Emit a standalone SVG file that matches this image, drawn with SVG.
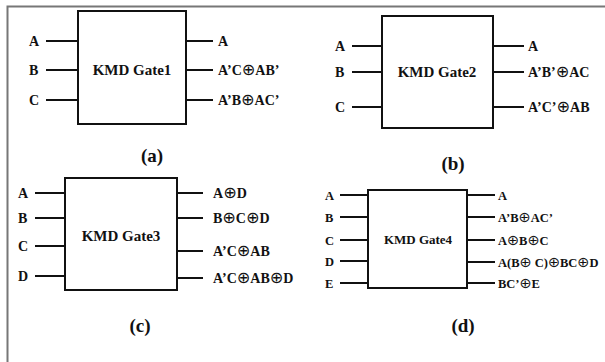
<svg xmlns="http://www.w3.org/2000/svg" width="605" height="362" viewBox="0 0 605 362">
<style>
text{font-family:"Liberation Serif","DejaVu Serif",serif;font-weight:bold;fill:#111}
.l{font-size:14px}
.s{font-size:12.5px}
.g{font-size:15px}
.gs{font-size:13px}
.cap{font-size:19px;text-anchor:middle}
.m{text-anchor:middle}
.x{font-family:"DejaVu Sans",sans-serif;font-size:1.15em;font-weight:normal}
.box{fill:#fff;stroke:#111;stroke-width:2}
.w{stroke:#111;stroke-width:2}
.frame{stroke:#777;stroke-width:2;fill:none}
</style>
<rect width="605" height="362" fill="#fff"/>
<path class="frame" d="M7.5,362 V6.5 H605"/>
<g id="gate1">
<rect class="box" x="78" y="11" width="108" height="113"/>
<text class="g m" x="132" y="75">KMD Gate1</text>
</g>
<g id="gate2">
<rect class="box" x="382" y="16" width="111" height="112"/>
<text class="g m" x="437" y="77">KMD Gate2</text>
</g>
<g id="gate3">
<rect class="box" x="65" y="178" width="112" height="112"/>
<text class="g m" x="121" y="241">KMD Gate3</text>
</g>
<g id="gate4">
<rect class="box" x="368" y="190" width="99" height="98"/>
<text class="gs m" x="418" y="244">KMD Gate4</text>
</g>
<g id="connectors">
<path class="w" d="M46,41H78M46,70H78M46,100H78M186,41H213M186,70H213M186,100H213"/>
<path class="w" d="M352,46H382M352,72H382M352,107H382M493,46H524M493,72H524M493,107H524"/>
<path class="w" d="M35,193H65M35,218H65M35,246H65M35,276H65M177,193H203M177,218H203M177,251H203M177,278H203"/>
<path class="w" d="M340,195H368M340,217H368M340,240H368M340,261H368M340,283H368M467,195H495M467,217H495M467,240H495M467,262H495M467,283H495"/>
</g>
<g id="labels-a">
<text class="l" x="29" y="46">A</text>
<text class="l" x="29" y="75">B</text>
<text class="l" x="29" y="105">C</text>
<text class="l" x="218" y="46">A</text>
<text class="l" x="218" y="75">A’C<tspan class="x">⊕</tspan>AB’</text>
<text class="l" x="218" y="105">A’B<tspan class="x">⊕</tspan>AC’</text>
<text class="cap" x="152" y="162">(a)</text>
</g>
<g id="labels-b">
<text class="l" x="335" y="51">A</text>
<text class="l" x="335" y="77">B</text>
<text class="l" x="335" y="112">C</text>
<text class="l" x="528" y="51">A</text>
<text class="l" x="528" y="77">A’B’<tspan class="x">⊕</tspan>AC</text>
<text class="l" x="528" y="112">A’C’<tspan class="x">⊕</tspan>AB</text>
<text class="cap" x="453" y="170">(b)</text>
</g>
<g id="labels-c">
<text class="l" x="18" y="198">A</text>
<text class="l" x="18" y="223">B</text>
<text class="l" x="18" y="251">C</text>
<text class="l" x="18" y="281">D</text>
<text class="l" x="213" y="198">A<tspan class="x">⊕</tspan>D</text>
<text class="l" x="213" y="223">B<tspan class="x">⊕</tspan>C<tspan class="x">⊕</tspan>D</text>
<text class="l" x="213" y="256">A’C<tspan class="x">⊕</tspan>AB</text>
<text class="l" x="213" y="283">A’C<tspan class="x">⊕</tspan>AB<tspan class="x">⊕</tspan>D</text>
<text class="cap" x="140" y="332">(c)</text>
</g>
<g id="labels-d">
<text class="s" x="325" y="199.5">A</text>
<text class="s" x="325" y="221.5">B</text>
<text class="s" x="325" y="244.5">C</text>
<text class="s" x="325" y="265.5">D</text>
<text class="s" x="325" y="287.5">E</text>
<text class="s" x="498" y="199.5">A</text>
<text class="s" x="498" y="221.5">A’B<tspan class="x">⊕</tspan>AC’</text>
<text class="s" x="498" y="244.5">A<tspan class="x">⊕</tspan>B<tspan class="x">⊕</tspan>C</text>
<text class="s" x="498" y="266.5">A(B<tspan class="x">⊕</tspan> C)<tspan class="x">⊕</tspan>BC<tspan class="x">⊕</tspan>D</text>
<text class="s" x="498" y="287.5">BC’<tspan class="x">⊕</tspan>E</text>
<text class="cap" x="463" y="332">(d)</text>
</g>
</svg>
